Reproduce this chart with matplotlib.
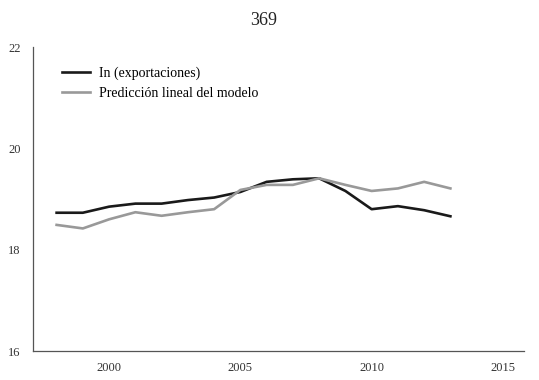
import numpy as np
import matplotlib
matplotlib.use("Agg")
import matplotlib.pyplot as plt

plt.rcParams['font.family'] = ['Liberation Serif', 'DejaVu Serif']

years = list(range(1998, 2014))
ln_export = [18.73, 18.73, 18.85, 18.91, 18.91, 18.98, 19.03, 19.14,
             19.34, 19.39, 19.41, 19.16, 18.80, 18.86, 18.78, 18.66]
prediccion = [18.49, 18.42, 18.60, 18.74, 18.67, 18.74, 18.80, 19.18,
              19.28, 19.28, 19.41, 19.28, 19.16, 19.21, 19.34, 19.21]
xticks = [2000, 2005, 2010, 2015]
yticks = [16, 18, 20, 22]

fig = plt.figure(figsize=(5.39, 3.80), dpi=100)
ax = fig.add_axes([0.0612, 0.0763, 0.9108, 0.7997])

ax.plot(years, ln_export, color='#1a1a1a', lw=1.9, label='In (exportaciones)')
ax.plot(years, prediccion, color='#999999', lw=1.9, label='Predicción lineal del modelo')

ax.set_xlim(1997.1, 2015.8)
ax.set_ylim(16, 22)
ax.set_xticks(xticks)
ax.set_yticks(yticks)
ax.tick_params(length=0, labelsize=9, colors='#333333')
ax.tick_params(axis='y', pad=9)
ax.tick_params(axis='x', pad=8)
for s in ['top', 'right']:
    ax.spines[s].set_visible(False)
for s in ['left', 'bottom']:
    ax.spines[s].set_color('#555555')
    ax.spines[s].set_linewidth(0.9)

ax.legend(loc='upper left', bbox_to_anchor=(0.059, 0.935), frameon=False,
          fontsize=10, handlelength=2.0, handletextpad=0.7, labelspacing=0.45,
          borderpad=0, borderaxespad=0)

fig.text(0.49, 0.945, '369', ha='center', va='center', fontsize=13, color='#222222')

fig.savefig('out.png', dpi=100)
